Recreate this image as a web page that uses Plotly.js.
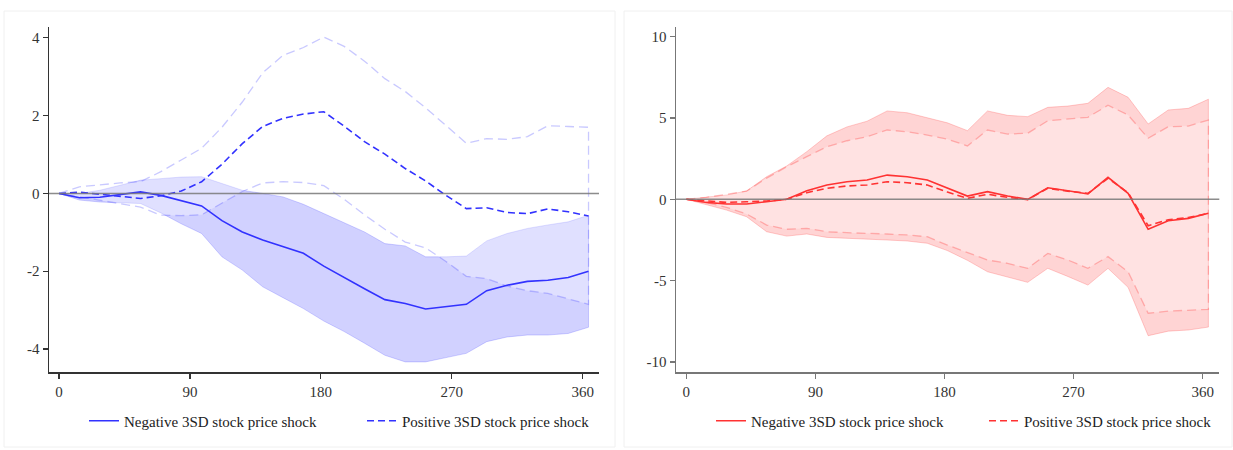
<!DOCTYPE html>
<html>
<head>
<meta charset="utf-8">
<script src="https://cdn.plot.ly/plotly-3.0.1.min.js"></script>
<style>html,body{margin:0;padding:0;background:#fff;}#chart{width:1233px;height:450px;}</style>
</head>
<body>
<div id="chart"></div>
<script>
// Horizon (days)
var horizon = [0,14,28,42,56,70,84,98,112,126,140,154,168,182,196,210,224,238,252,266,280,294,308,322,336,350,364];

// Left panel (blue)
var negL      = [0,-0.11,-0.10,-0.03,0.04,-0.05,-0.18,-0.32,-0.70,-0.99,-1.20,-1.36,-1.54,-1.87,-2.17,-2.45,-2.73,-2.83,-2.97,-2.91,-2.85,-2.50,-2.36,-2.26,-2.23,-2.16,-2.00];
var negLUpper = [0,0.00,0.08,0.21,0.34,0.38,0.42,0.43,0.26,0.08,0.00,-0.09,-0.28,-0.52,-0.77,-0.99,-1.29,-1.35,-1.63,-1.63,-1.61,-1.22,-1.03,-0.90,-0.81,-0.73,-0.56];
var negLLower = [0,-0.17,-0.22,-0.24,-0.26,-0.50,-0.78,-1.03,-1.63,-1.97,-2.40,-2.68,-2.96,-3.28,-3.55,-3.85,-4.16,-4.33,-4.33,-4.22,-4.11,-3.81,-3.69,-3.64,-3.64,-3.60,-3.44];
var posL      = [0,0.03,-0.02,-0.08,-0.13,-0.06,0.06,0.30,0.75,1.28,1.72,1.93,2.04,2.10,1.73,1.33,1.01,0.64,0.32,-0.05,-0.39,-0.37,-0.49,-0.52,-0.40,-0.47,-0.58];
var posLUpper = [0,0.17,0.22,0.27,0.30,0.56,0.86,1.16,1.70,2.35,3.10,3.55,3.75,4.02,3.78,3.40,2.95,2.62,2.20,1.75,1.29,1.41,1.39,1.46,1.74,1.72,1.70];
var posLLower = [0,-0.08,-0.17,-0.26,-0.35,-0.56,-0.57,-0.55,-0.25,0.05,0.27,0.30,0.28,0.20,-0.15,-0.55,-0.92,-1.25,-1.40,-1.75,-2.13,-2.19,-2.38,-2.50,-2.57,-2.70,-2.85];

// Right panel (red)
var negR      = [0,-0.19,-0.29,-0.29,-0.15,0.00,0.53,0.88,1.08,1.19,1.49,1.39,1.19,0.70,0.20,0.47,0.20,0.00,0.71,0.53,0.33,1.35,0.37,-1.84,-1.32,-1.17,-0.86];
var negRUpper = [0,0.14,0.26,0.51,1.39,2.05,2.93,3.90,4.45,4.80,5.43,5.32,5.02,4.70,4.22,5.43,5.16,5.08,5.65,5.73,5.90,6.88,6.27,4.63,5.49,5.59,6.15];
var negRLower = [0,-0.35,-0.66,-1.07,-1.99,-2.26,-2.13,-2.34,-2.40,-2.46,-2.50,-2.56,-2.70,-3.15,-3.75,-4.45,-4.76,-5.10,-4.24,-4.74,-5.27,-4.24,-5.41,-8.38,-8.10,-8.03,-7.85];
var posR      = [0,-0.10,-0.19,-0.15,-0.10,0.00,0.41,0.68,0.82,0.88,1.08,1.02,0.88,0.45,0.06,0.31,0.12,-0.02,0.68,0.50,0.37,1.29,0.41,-1.62,-1.25,-1.12,-0.86];
var posRUpper = [0,0.12,0.30,0.50,1.30,2.00,2.62,3.23,3.60,3.85,4.26,4.15,3.95,3.70,3.28,4.26,4.01,4.06,4.83,4.92,5.04,5.78,5.18,3.75,4.46,4.50,4.87];
var posRLower = [0,-0.20,-0.49,-0.90,-1.58,-1.84,-1.78,-1.99,-2.05,-2.10,-2.13,-2.19,-2.30,-2.81,-3.28,-3.73,-3.93,-4.24,-3.32,-3.73,-4.24,-3.52,-4.45,-7.00,-6.87,-6.80,-6.76];

// Tick labels
var xTickVals = [0,90,180,270,360];
var xTickText = ['0','90','180','270','360'];
var yTickValsL = [-4,-2,0,2,4];
var yTickTextL = ['-4','-2','0','2','4'];
var yTickValsR = [-10,-5,0,5,10];
var yTickTextR = ['-10','-5','0','5','10'];

var negName = 'Negative 3SD stock price shock';
var posName = 'Positive 3SD stock price shock';

function band(up, lo) {
  return {
    x: horizon.concat(horizon.slice().reverse()),
    y: up.concat(lo.slice().reverse())
  };
}

function panel(xa, ya, lgNeg, lgPos, mainColor, bandFill, bandLine, ciLine, neg, negUp, negLo, pos, posUp, posLo) {
  var b1 = band(negUp, negLo);
  var b2 = band(posUp, posLo);
  return [
    {x: b1.x, y: b1.y, xaxis: xa, yaxis: ya, type: 'scatter', mode: 'lines', fill: 'toself',
     fillcolor: bandFill, line: {color: bandLine, width: 1}, showlegend: false, hoverinfo: 'skip'},
    {x: b2.x, y: b2.y, xaxis: xa, yaxis: ya, type: 'scatter', mode: 'lines', fill: 'toself',
     fillcolor: 'rgba(255,255,255,0.32)', line: {color: ciLine, width: 1.3, dash: '9px,5px'}, showlegend: false, hoverinfo: 'skip'},
    {x: horizon, y: neg, xaxis: xa, yaxis: ya, type: 'scatter', mode: 'lines', name: negName,
     line: {color: mainColor, width: 1.6}, legend: lgNeg},
    {x: horizon, y: pos, xaxis: xa, yaxis: ya, type: 'scatter', mode: 'lines', name: posName,
     line: {color: mainColor, width: 1.6, dash: '7px,4px'}, legend: lgPos}
  ];
}

var data = [].concat(
  panel('x', 'y', 'legend', 'legend2', '#3232ff', 'rgba(0,0,255,0.18)', 'rgba(60,60,255,0.22)', 'rgba(60,60,255,0.28)',
        negL, negLUpper, negLLower, posL, posLUpper, posLLower),
  panel('x2', 'y2', 'legend3', 'legend4', '#ff3232', 'rgba(255,0,0,0.17)', 'rgba(255,60,60,0.25)', 'rgba(255,60,60,0.32)',
        negR, negRUpper, negRLower, posR, posRUpper, posRLower)
);

var W = 1233, H = 450;
var fontFam = 'Liberation Serif, DejaVu Serif, serif';
function xAxis(d0, d1, rng, anchor, lc) {
  return {domain: [d0 / W, d1 / W], range: rng, anchor: anchor, tickvals: xTickVals, ticktext: xTickText,
    ticks: 'outside', ticklen: 5, tickwidth: 1.2, tickcolor: lc, showline: true, linecolor: lc, linewidth: 1.5,
    showgrid: false, zeroline: false, fixedrange: true, tickfont: {family: fontFam, size: 15, color: '#333'}};
}
function yAxis(rng, anchor, tv, tt, lc) {
  return {domain: [1 - 372 / H, 1 - 27.3 / H], range: rng, anchor: anchor, tickvals: tv, ticktext: tt,
    ticks: 'outside', ticklen: 5, tickwidth: 1.2, tickcolor: lc, showline: true, linecolor: lc, linewidth: 1.5,
    showgrid: false, zeroline: false, fixedrange: true,
    tickfont: {family: fontFam, size: 15, color: '#333'}};
}
function legendAt(px) {
  return {orientation: 'h', x: px / W, xanchor: 'left', y: 1 - 421 / H, yanchor: 'middle',
    bgcolor: 'rgba(0,0,0,0)', font: {family: fontFam, size: 15, color: '#222'}};
}
function zeroLine(xr, yr) {
  return {type: 'line', xref: xr + ' domain', yref: yr, x0: 0, x1: 1, y0: 0, y1: 0,
    line: {color: 'rgba(120,120,120,0.85)', width: 1.6}, layer: 'above'};
}

var layout = {
  width: W, height: H,
  margin: {l: 0, r: 0, t: 0, b: 0},
  paper_bgcolor: '#ffffff', plot_bgcolor: 'rgba(0,0,0,0)',
  font: {family: fontFam, size: 15, color: '#222'},
  xaxis: xAxis(49, 599, [-6.9, 371.2], 'y', '#333'),
  yaxis: yAxis([-4.59, 4.27], 'x', yTickValsL, yTickTextL, '#333'),
  xaxis2: xAxis(676, 1219.3, [-7.2, 371.6], 'y2', '#777'),
  yaxis2: yAxis([-10.61, 10.57], 'x2', yTickValsR, yTickTextR, '#777'),
  legend: legendAt(84),
  legend2: legendAt(362),
  legend3: legendAt(711),
  legend4: legendAt(984),
  shapes: [
    {type: 'rect', xref: 'paper', yref: 'paper', x0: 4 / W, x1: 615 / W, y0: 1 - 447 / H, y1: 1 - 11 / H,
     line: {color: '#f0f0f0', width: 1}, layer: 'below'},
    {type: 'rect', xref: 'paper', yref: 'paper', x0: 624 / W, x1: 1232 / W, y0: 1 - 447 / H, y1: 1 - 11 / H,
     line: {color: '#f0f0f0', width: 1}, layer: 'below'},
    zeroLine('x', 'y'),
    zeroLine('x2', 'y2')
  ]
};

Plotly.newPlot('chart', data, layout, {displayModeBar: false, staticPlot: true});
</script>
</body>
</html>
